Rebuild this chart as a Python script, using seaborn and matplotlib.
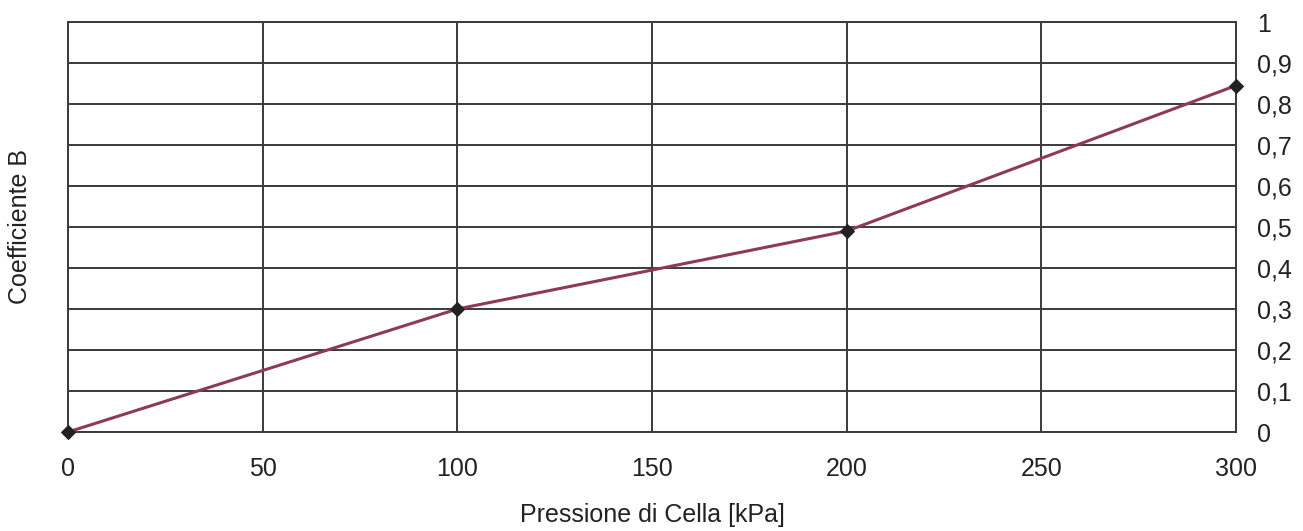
import matplotlib
matplotlib.use("Agg")
import matplotlib.pyplot as plt
import seaborn as sns
import pandas as pd
from matplotlib.ticker import FuncFormatter, MultipleLocator

pressione = [0, 100, 200, 300]
coeff_b = [0.0, 0.30, 0.49, 0.845]

x_label = "Pressione di Cella [kPa]"
y_label = "Coefficiente B"

df = pd.DataFrame({"p": pressione, "b": coeff_b})

sns.set_style("white")
plt.rcParams['font.family'] = ['Liberation Sans', 'DejaVu Sans']

fig = plt.figure(figsize=(13.03, 5.31), dpi=100)
ax = fig.add_axes([68 / 1303, 1 - 432 / 531, (1236 - 68) / 1303, (432 - 22) / 531])

sns.lineplot(data=df, x="p", y="b", ax=ax, color="#8e3a55", linewidth=2.2,
             marker="D", markersize=7, markerfacecolor="#222222",
             markeredgecolor="#222222", zorder=5, clip_on=False)


def fmt(v, pos):
    if abs(v) < 1e-9:
        return "0"
    if abs(v - 1) < 1e-9:
        return "1"
    return ("%.1f" % v).replace(".", ",")


ax.set_xlim(0, 300)
ax.set_ylim(0, 1)
ax.xaxis.set_major_locator(MultipleLocator(50))
ax.yaxis.set_major_locator(MultipleLocator(0.1))
ax.yaxis.set_major_formatter(FuncFormatter(fmt))
ax.yaxis.tick_right()
ax.grid(True, color="#3a3a3a", linewidth=1.4)
for s in ax.spines.values():
    s.set_color("#3a3a3a")
    s.set_linewidth(1.4)
ax.tick_params(axis="both", length=0, labelsize=18, colors="#222222")
ax.tick_params(axis="x", pad=18)
ax.tick_params(axis="y", pad=15)

ax.set_xlabel(x_label, fontsize=18, color="#222222")
ax.xaxis.set_label_coords(0.5, -0.173)
ax.set_ylabel(y_label, fontsize=18, color="#222222")
ax.yaxis.set_label_position("left")
ax.yaxis.set_label_coords(-0.031, 0.5)

fig.savefig("out.png", dpi=100)
